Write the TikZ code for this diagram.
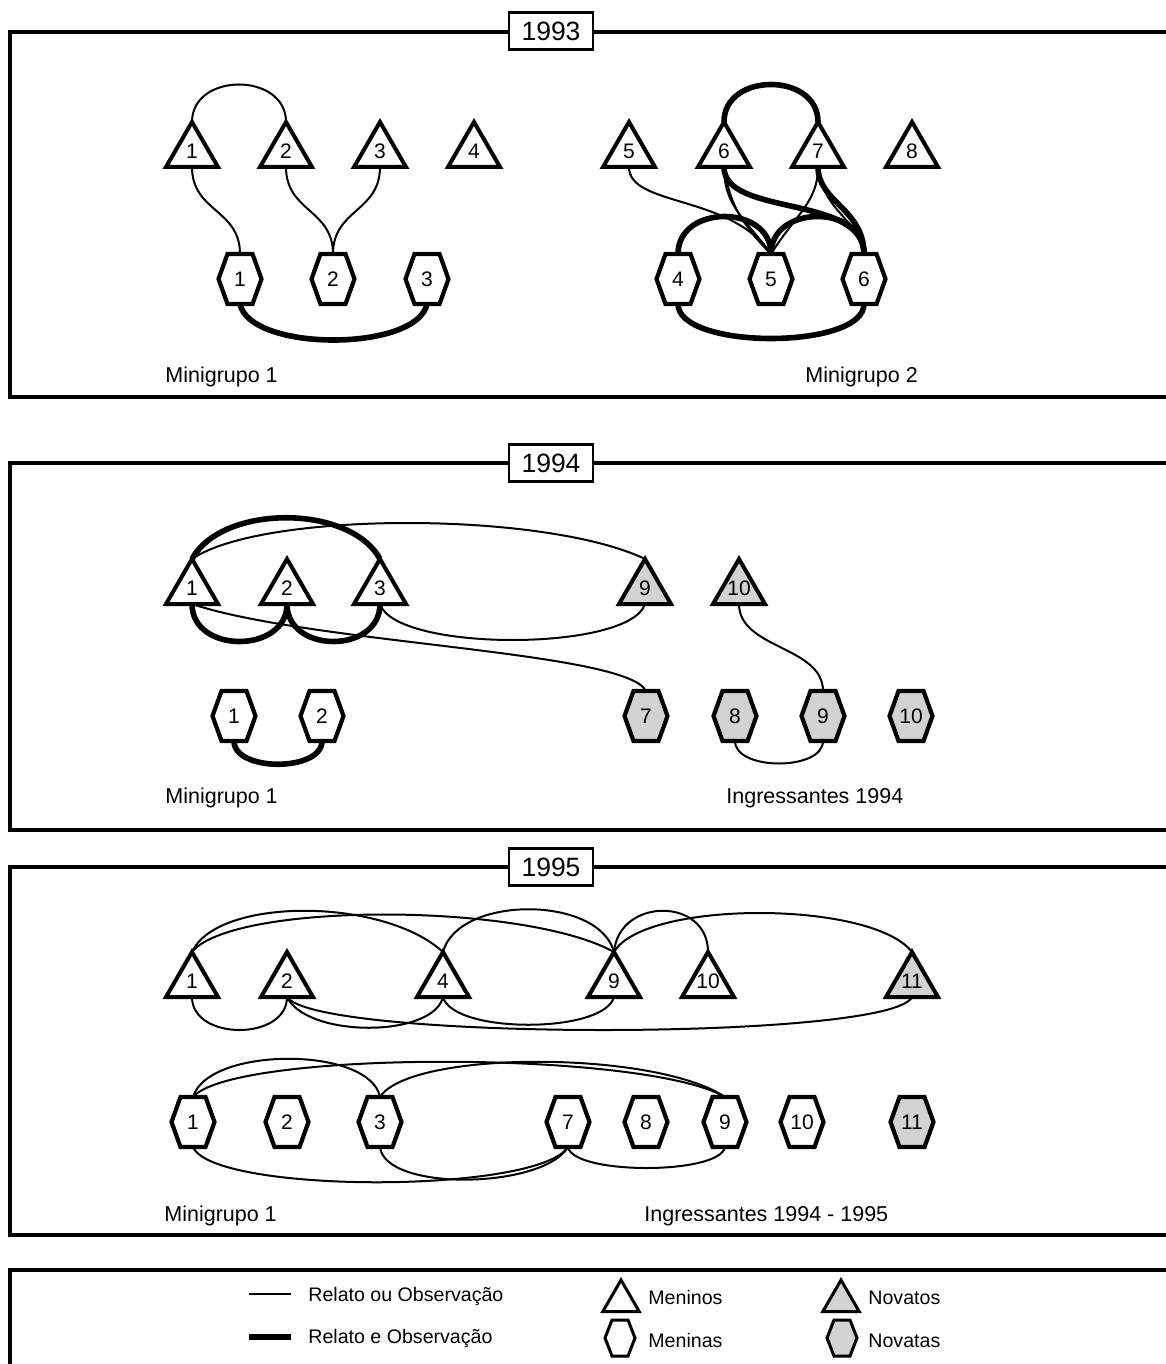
\documentclass[tikz,border=0pt]{standalone}
\usepackage{fontspec}
\setmainfont{Liberation Sans}
\usetikzlibrary{shapes.geometric}
\pgfdeclarelayer{bg}
\pgfsetlayers{bg,main}
\definecolor{novo}{RGB}{210,210,210}
\newcommand{\dnumfont}{\fontsize{10.5pt}{12pt}\selectfont}
\newcommand{\dyearfont}{\fontsize{13.25pt}{15pt}\selectfont}
\newcommand{\dgrpfont}{\fontsize{10.75pt}{13pt}\selectfont}
\newcommand{\dlegfont}{\fontsize{9.8pt}{12pt}\selectfont}
\newcommand{\tn}[1]{\raisebox{-0.33em}[0pt][0pt]{\makebox[0pt]{#1}}}
\tikzset{
  tri/.style={regular polygon, regular polygon sides=3, minimum size=30pt, inner sep=0pt, outer sep=0pt, draw, line width=2pt, fill=white, font=\dnumfont},
  legtri/.style={regular polygon, regular polygon sides=3, minimum size=21pt, inner sep=0pt, outer sep=0pt, draw, line width=1.5pt, fill=white},
  hexn/.style={rectangle, minimum width=21.5pt, minimum height=25pt, inner sep=0pt, outer sep=0pt, font=\dnumfont},
  hexline/.style={draw, line width=2.1pt, fill=white},
  rel/.style={line width=1pt},
  relobs/.style={line width=2.8pt},
  frame/.style={draw, line width=1.6pt},
  yearbox/.style={draw, fill=white, line width=1.3pt, minimum width=42pt, minimum height=18.5pt, inner sep=0pt, font=\dyearfont},
  grp/.style={anchor=base west, inner sep=0pt, font=\dgrpfont},
  leg/.style={anchor=base west, inner sep=0pt, font=\dlegfont},
}
% name, x, y (px, downward), text, fill
\newcommand{\hexa}[5]{%
  \filldraw[hexline, fill=#5] (#2-21.5,-#3) -- (#2-12.5,-#3+25) -- (#2+12.5,-#3+25) -- (#2+21.5,-#3) -- (#2+12.5,-#3-25) -- (#2-12.5,-#3-25) -- cycle;
  \node[hexn] (#1) at (#2,-#3) {#4};}
\newcommand{\leghex}[4]{%
  \filldraw[draw, line width=1.5pt, fill=#4] (#2-15,-#3) -- (#2-8,-#3+18) -- (#2+8,-#3+18) -- (#2+15,-#3) -- (#2+8,-#3-18) -- (#2-8,-#3-18) -- cycle;
  \node[rectangle, minimum width=15pt, minimum height=18pt, inner sep=0pt] (#1) at (#2,-#3) {};}
\begin{document}
\begin{tikzpicture}[x=0.5pt, y=0.5pt]
\path[use as bounding box] (0,0) rectangle (1166,-1364);

% ---------- frames ----------
\draw[frame] (10,-32) rectangle (1180,-397);
\draw[frame] (10,-463) rectangle (1180,-830);
\draw[frame] (10,-867) rectangle (1180,-1235);
\draw[frame] (10,-1270) rectangle (1180,-1380);
\node[yearbox] (y93) at (551,-31) {1993};
\node[yearbox] (y94) at (551,-463) {1994};
\node[yearbox] (y95) at (551,-867) {1995};

% ---------- 1993 ----------
\node[tri] (a1) at (192,-152) {\tn{1}};
\node[tri] (a2) at (286,-152) {\tn{2}};
\node[tri] (a3) at (380,-152) {\tn{3}};
\node[tri] (a4) at (474,-152) {\tn{4}};
\node[tri] (a5) at (629,-152) {\tn{5}};
\node[tri] (a6) at (724,-152) {\tn{6}};
\node[tri] (a7) at (818,-152) {\tn{7}};
\node[tri] (a8) at (912,-152) {\tn{8}};
\hexa{ah1}{240}{279}{1}{white}
\hexa{ah2}{333}{279}{2}{white}
\hexa{ah3}{427}{279}{3}{white}
\hexa{ah4}{678}{279}{4}{white}
\hexa{ah5}{771}{279}{5}{white}
\hexa{ah6}{864}{279}{6}{white}
\node[grp] (g93a) at (165,-382) {Minigrupo 1};
\node[grp] (g93b) at (805,-382) {Minigrupo 2};

\begin{pgfonlayer}{bg}
\draw[rel] (a1.north) .. controls +(0,50) and +(0,50) .. (a2.north);
\draw[rel] (a1.side 2) .. controls +(0,-45) and +(0,45) .. (ah1.north);
\draw[rel] (a2.side 2) .. controls +(0,-45) and +(0,45) .. (ah2.north);
\draw[rel] (a3.side 2) .. controls +(0,-45) and +(0,45) .. (ah2.north);
\draw[relobs] (ah1.south) .. controls +(10,-48) and +(-10,-48) .. (ah3.south);
\draw[relobs] (a6.north) .. controls +(0,50) and +(0,50) .. (a7.north);
\draw[relobs] (ah4.north) .. controls +(0,50) and +(0,50) .. (ah5.north);
\draw[relobs] (ah5.north) .. controls +(0,50) and +(0,50) .. (ah6.north);
\draw[relobs] (ah4.south) .. controls +(0,-46) and +(0,-46) .. (ah6.south);
\draw[rel] (a5.side 2) .. controls +(0,-40) and +(-40,60) .. (ah5.north);
\draw[rel] (a6.side 2) .. controls +(0,-40) and +(-25,35) .. (ah5.north);
\draw[rel] (a6.side 2) .. controls +(5,-25) and +(-40,40) .. (ah5.north);
\draw[relobs] (a6.side 2) .. controls +(0,-50) and +(0,60) .. (ah6.north);
\draw[rel] (a7.side 2) .. controls +(0,-35) and +(25,40) .. (ah5.north);
\draw[relobs] (a7.side 2) .. controls +(0,-35) and +(0,45) .. (ah6.north);
\draw[rel] (a7.side 2) .. controls +(5,-45) and +(-5,35) .. (ah6.north);
\end{pgfonlayer}

% ---------- 1994 ----------
\node[tri] (b1) at (192,-589) {\tn{1}};
\node[tri] (b2) at (287,-589) {\tn{2}};
\node[tri] (b3) at (380,-589) {\tn{3}};
\node[tri, fill=novo] (b9) at (645,-589) {\tn{9}};
\node[tri, fill=novo] (b10) at (739,-589) {\tn{10}};
\hexa{bh1}{234}{716}{1}{white}
\hexa{bh2}{322}{716}{2}{white}
\hexa{bh7}{646}{716}{7}{novo}
\hexa{bh8}{735}{716}{8}{novo}
\hexa{bh9}{823}{716}{9}{novo}
\hexa{bh10}{911}{716}{10}{novo}
\node[grp] (g94a) at (165,-803) {Minigrupo 1};
\node[grp] (g94b) at (726,-803) {Ingressantes 1994};

\begin{pgfonlayer}{bg}
\draw[relobs] (b1.north) .. controls +(30,55) and +(-30,55) .. (b3.north);
\draw[rel] (b1.north) .. controls +(70,48) and +(-100,48) .. (b9.north);
\draw[relobs] (b1.side 2) .. controls +(0,-50) and +(0,-50) .. (b2.side 2);
\draw[relobs] (b2.side 2) .. controls +(0,-50) and +(0,-50) .. (b3.side 2);
\draw[rel] (b3.side 2) .. controls +(15,-48) and +(-15,-48) .. (b9.side 2);
\draw[rel] (b1.side 2) .. controls +(120,-40) and +(-20,40) .. (bh7.north);
\draw[rel] (b10.side 2) .. controls +(0,-45) and +(0,45) .. (bh9.north);
\draw[rel] (bh8.south) .. controls +(0,-30) and +(0,-30) .. (bh9.south);
\draw[relobs] (bh1.south) .. controls +(0,-31) and +(0,-31) .. (bh2.south);
\end{pgfonlayer}

% ---------- 1995 ----------
\node[tri] (c1) at (192,-982) {\tn{1}};
\node[tri] (c2) at (287,-982) {\tn{2}};
\node[tri] (c4) at (443,-982) {\tn{4}};
\node[tri] (c9) at (614,-982) {\tn{9}};
\node[tri] (c10) at (708,-982) {\tn{10}};
\node[tri, fill=novo] (c11) at (912,-982) {\tn{11}};
\hexa{ch1}{193}{1122}{1}{white}
\hexa{ch2}{287}{1122}{2}{white}
\hexa{ch3}{380}{1122}{3}{white}
\hexa{ch7}{568}{1122}{7}{white}
\hexa{ch8}{646}{1122}{8}{white}
\hexa{ch9}{725}{1122}{9}{white}
\hexa{ch10}{802}{1122}{10}{white}
\hexa{ch11}{912}{1122}{11}{novo}
\node[grp] (g95a) at (164,-1221) {Minigrupo 1};
\node[grp] (g95b) at (644,-1221) {Ingressantes 1994 - 1995};

\begin{pgfonlayer}{bg}
\draw[rel] (c1.north) .. controls +(25,55) and +(-60,55) .. (c4.north);
\draw[rel] (c1.north) .. controls +(40,50) and +(-90,50) .. (c9.north);
\draw[rel] (c4.north) .. controls +(15,57) and +(-15,57) .. (c9.north);
\draw[rel] (c9.north) .. controls +(5,55) and +(0,55) .. (c10.north);
\draw[rel] (c9.north) .. controls +(30,52) and +(-40,52) .. (c11.north);
\draw[rel] (c1.side 2) .. controls +(0,-44) and +(0,-44) .. (c2.side 2);
\draw[rel] (c2.side 2) .. controls +(20,-41) and +(-10,-41) .. (c4.side 2);
\draw[rel] (c2.side 2) .. controls +(30,-44) and +(-20,-44) .. (c11.side 2);
\draw[rel] (c4.side 2) .. controls +(10,-37) and +(-10,-37) .. (c9.side 2);
\draw[rel] (ch1.north) .. controls +(15,51) and +(-10,51) .. (ch3.north);
\draw[rel] (ch1.north) .. controls +(40,47) and +(-80,47) .. (ch9.north);
\draw[rel] (ch3.north) .. controls +(30,47) and +(-70,47) .. (ch9.north);
\draw[rel] (ch1.south) .. controls +(20,-47) and +(-30,-47) .. (ch7.south);
\draw[rel] (ch3.south) .. controls +(5,-45) and +(-25,-42) .. (ch7.south);
\draw[rel] (ch7.south) .. controls +(5,-28) and +(-5,-28) .. (ch9.south);
\end{pgfonlayer}

% ---------- legend ----------
\coordinate (l1a) at (249,-1294);
\coordinate (l1b) at (291,-1294);
\coordinate (l2a) at (249,-1337);
\coordinate (l2b) at (291,-1337);
\draw[line width=1pt] (l1a) -- (l1b);
\draw[line width=3pt] (l2a) -- (l2b);
\node[leg] (t1) at (308,-1301) {Relato ou Observação};
\node[leg] (t2) at (308,-1343) {Relato e Observação};
\node[legtri] (lm) at (621,-1301) {};
\leghex{lf}{620}{1338}{white}
\node[legtri, fill=novo] (ln) at (841,-1301) {};
\leghex{lnf}{842}{1338}{novo}
\node[leg] (t3) at (648,-1304) {Meninos};
\node[leg] (t4) at (648,-1347) {Meninas};
\node[leg] (t5) at (868,-1304) {Novatos};
\node[leg] (t6) at (868,-1347) {Novatas};
\end{tikzpicture}
\end{document}
